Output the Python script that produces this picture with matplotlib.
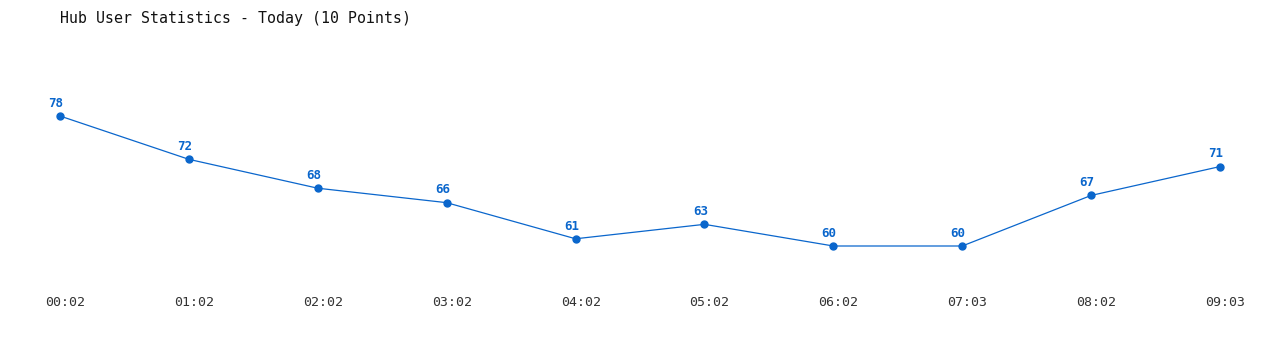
import matplotlib
matplotlib.use("Agg")
import matplotlib.pyplot as plt
from matplotlib.transforms import blended_transform_factory

times = ["00:02", "01:02", "02:02", "03:02", "04:02", "05:02", "06:02", "07:03", "08:02", "09:03"]
users = [78, 72, 68, 66, 61, 63, 60, 60, 67, 71]

blue = "#0a66cc"
mono = "DejaVu Sans Mono"

fig = plt.figure(figsize=(12.8, 3.5), dpi=100)
# axes spans first->last point horizontally, min->max vertically
ax = fig.add_axes([60 / 1280, 1 - 246 / 350, 1160 / 1280, 130 / 350])
x = list(range(len(users)))
ax.plot(x, users, color=blue, lw=0.9, marker="o", ms=5, clip_on=False)
ax.set_xlim(0, len(users) - 1)
ax.set_ylim(min(users), max(users))

for xi, v in zip(x, users):
    ax.annotate(str(v), (xi, v), xytext=(-3, 4.5), textcoords="offset points",
                ha="center", va="bottom", fontsize=9, fontweight="bold",
                color=blue, family=mono)

trans = blended_transform_factory(ax.transData, fig.transFigure)
for xi, t in zip(x, times):
    ax.text(xi + 0.04, 1 - 303 / 350, t, transform=trans, ha="center", va="center",
            fontsize=9.5, color="#333333", family=mono)

for s in ax.spines.values():
    s.set_visible(False)
ax.set_xticks([])
ax.set_yticks([])

fig.text(60 / 1280, 1 - 18 / 350, "Hub User Statistics - Today (10 Points)",
         ha="left", va="center", fontsize=10.7, color="#111111", family=mono)

fig.savefig("out.png", dpi=100, facecolor="white")
